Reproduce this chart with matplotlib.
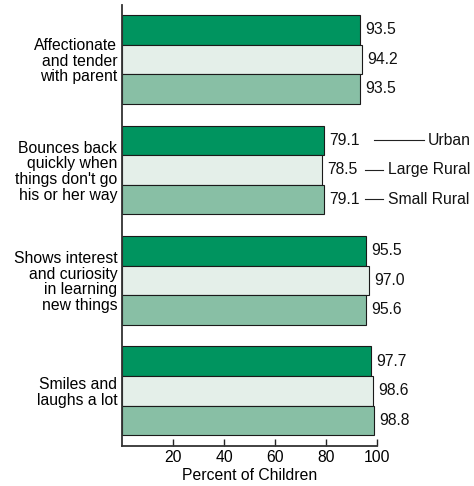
import matplotlib
matplotlib.use("Agg")
import matplotlib.pyplot as plt
import numpy as np

plt.rcParams['font.family'] = ['Liberation Sans', 'DejaVu Sans']

categories = ["Affectionate\nand tender\nwith parent",
              "Bounces back\nquickly when\nthings don't go\nhis or her way",
              "Shows interest\nand curiosity\nin learning\nnew things",
              "Smiles and\nlaughs a lot"]
series_names = ["Urban", "Large Rural", "Small Rural"]
urban = [93.5, 79.1, 95.5, 97.7]
large_rural = [94.2, 78.5, 97.0, 98.6]
small_rural = [93.5, 79.1, 95.6, 98.8]
xticks = [20, 40, 60, 80, 100]
xlabel = "Percent of Children"

colors = ["#00945F", "#E4EFE9", "#88BFA5"]
FS = 11.3

fig = plt.figure(figsize=(4.74, 4.86), dpi=100)
ax = fig.add_axes([122/474, 40/486, 255/474, 441/486])

group_gap = 3.74
series = [urban, large_rural, small_rural]
centers = np.arange(len(categories)) * group_gap + 1
for j, vals in enumerate(series):
    ys = np.arange(len(categories)) * group_gap + j
    ax.barh(ys, vals, height=1.0, color=colors[j], edgecolor="#1a1a1a",
            linewidth=0.8, label=series_names[j])
    for y, v in zip(ys, vals):
        ax.annotate(f"{v:.1f}", xy=(v, y), xytext=(3.8, 0), textcoords="offset points",
                    ha="left", va="center", fontsize=FS, color="#111111")

ax.set_xlim(0, 100)
ax.set_ylim(3 * group_gap + 2 + 0.5 + 0.37, -0.84)
ax.set_yticks(centers)
ax.set_yticklabels(categories, fontsize=FS, linespacing=1.05, ha="right")
ax.tick_params(axis="y", length=0, pad=3.5)
ax.set_xticks(xticks)
ax.set_xticklabels([str(t) for t in xticks], fontsize=FS)
ax.tick_params(axis="x", direction="in", length=5, width=1.0, pad=3, color="#222222")
ax.set_xlabel(xlabel, fontsize=FS, labelpad=2)

for s in ["top", "right"]:
    ax.spines[s].set_visible(False)
for s in ["left", "bottom"]:
    ax.spines[s].set_color("#333333")
    ax.spines[s].set_linewidth(1.3)

# legend-like callouts beside the second group
g = 1
leg_specs = [(98.8, 118.4, 119.9), (95.3, 102.2, 104.2), (95.3, 102.2, 104.2)]
for j, (x0, x1, xt) in enumerate(leg_specs):
    y = g * group_gap + j
    ax.plot([x0, x1], [y, y], color="#222222", lw=0.8, clip_on=False)
    ax.text(xt, y, series_names[j], ha="left", va="center", fontsize=FS,
            color="#111111", clip_on=False)

fig.savefig("out.png", dpi=100)
